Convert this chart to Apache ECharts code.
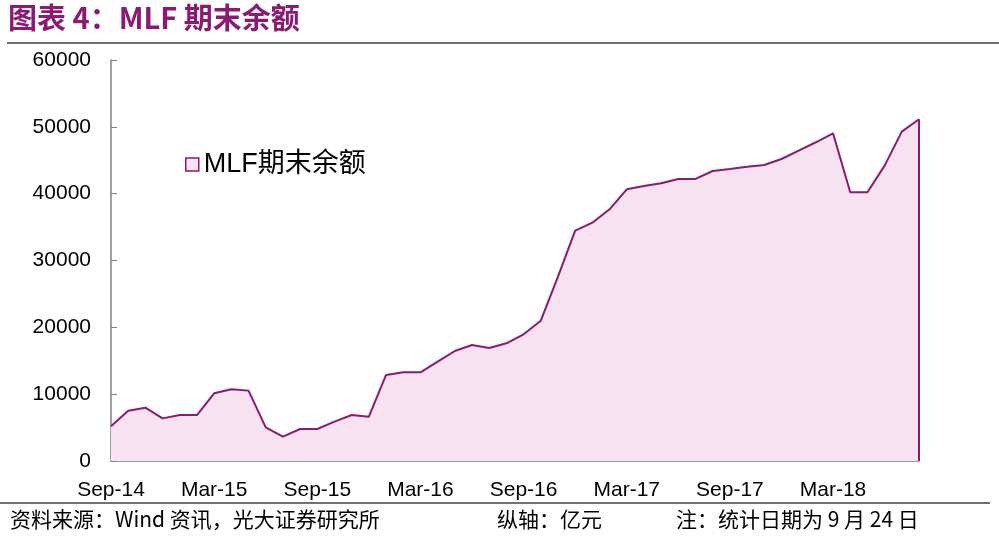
<!DOCTYPE html>
<html>
<head>
<meta charset="utf-8">
<script src="https://cdn.jsdelivr.net/npm/echarts@6/dist/echarts.min.js"></script>
<style>html,body{margin:0;padding:0;background:#fff;}#c{width:999px;height:544px;}</style>
</head>
<body>
<div id="c"></div>
<script>
const months = ['Sep-14','Oct-14','Nov-14','Dec-14','Jan-15','Feb-15','Mar-15','Apr-15','May-15','Jun-15','Jul-15','Aug-15',
'Sep-15','Oct-15','Nov-15','Dec-15','Jan-16','Feb-16','Mar-16','Apr-16','May-16','Jun-16','Jul-16','Aug-16',
'Sep-16','Oct-16','Nov-16','Dec-16','Jan-17','Feb-17','Mar-17','Apr-17','May-17','Jun-17','Jul-17','Aug-17',
'Sep-17','Oct-17','Nov-17','Dec-17','Jan-18','Feb-18','Mar-18','Apr-18','May-18','Jun-18','Jul-18','Aug-18'];
const mlfBalance = [5200,7530,7980,6380,6880,6880,10130,10730,10530,5040,3640,4790,
4790,5890,6880,6630,12870,13270,13270,14860,16460,17360,16910,17610,
18960,20990,27580,34460,35660,37660,40650,41150,41550,42200,42200,43390,
43690,44040,44290,45190,46430,47690,49030,40200,40200,44190,49280,51130];
const yTicks = {min:0, max:60000, interval:10000};
const seriesName = 'MLF期末余额';
const titleText = '图表 4：MLF 期末余额';
const sourceText = '资料来源：Wind 资讯，光大证券研究所';
const unitText = '纵轴：亿元';
const noteText = '注：统计日期为 9 月 24 日';

const lineColor = '#8C1A70';
const fillColor = '#F6E2F0';
const font = '"Liberation Sans", Arial, "Noto Sans CJK SC", sans-serif';
const cjk = '"Noto Sans CJK SC", sans-serif';
const lastIdx = mlfBalance.length - 1;
const chart = echarts.init(document.getElementById('c'));
chart.setOption({
  animation: false,
  backgroundColor: '#fff',
  grid: {left: 111, right: 80, top: 60, bottom: 83},
  legend: {
    left: 180, top: 146,
    icon: 'rect', itemWidth: 13, itemHeight: 13, itemGap: 7,
    textStyle: {fontSize: 27, color: '#000', fontFamily: font},
    data: [{name: seriesName, itemStyle: {color: fillColor, borderColor: lineColor, borderWidth: 1.5}}]
  },
  xAxis: {
    type: 'category', data: months, boundaryGap: false,
    axisLine: {lineStyle: {color: '#808080', width: 1.5}},
    axisTick: {inside: true, length: 5, interval: 0, lineStyle: {color: '#808080'}},
    axisLabel: {interval: 5, fontSize: 21, color: '#000', margin: 19, fontFamily: font},
    splitLine: {show: false}
  },
  yAxis: {
    type: 'value', min: yTicks.min, max: yTicks.max, interval: yTicks.interval,
    axisLine: {show: true, lineStyle: {color: '#808080', width: 1.5}},
    axisTick: {show: true, inside: true, length: 6, lineStyle: {color: '#808080'}},
    axisLabel: {fontSize: 21, color: '#000', margin: 20, fontFamily: font, formatter: v => String(v)},
    splitLine: {show: false}
  },
  series: [{
    name: seriesName, type: 'line', data: mlfBalance, symbol: 'none',
    lineStyle: {color: lineColor, width: 2},
    itemStyle: {color: lineColor},
    areaStyle: {color: fillColor, opacity: 1},
    markLine: {
      silent: true, symbol: 'none', label: {show: false},
      lineStyle: {color: lineColor, width: 2, type: 'solid'},
      data: [[{coord: [lastIdx, 0]}, {coord: [lastIdx, mlfBalance[lastIdx]]}]]
    }
  }],
  graphic: [
    {type: 'text', left: 8, top: 3, style: {text: titleText, fontSize: 29, fontWeight: 'bold', fill: '#8C1A72', fontFamily: cjk}},
    {type: 'line', shape: {x1: 7, y1: 43, x2: 999, y2: 43}, style: {stroke: '#404040', lineWidth: 1.5}},
    {type: 'line', shape: {x1: 0, y1: 503, x2: 990, y2: 503}, style: {stroke: '#404040', lineWidth: 1.5}},
    {type: 'text', left: 10, top: 509, style: {text: sourceText, fontSize: 21, fill: '#000', fontFamily: cjk}},
    {type: 'text', left: 497, top: 509, style: {text: unitText, fontSize: 21, fill: '#000', fontFamily: cjk}},
    {type: 'text', left: 676, top: 509, style: {text: noteText, fontSize: 21, fill: '#000', fontFamily: cjk}}
  ]
});
</script>
</body>
</html>
